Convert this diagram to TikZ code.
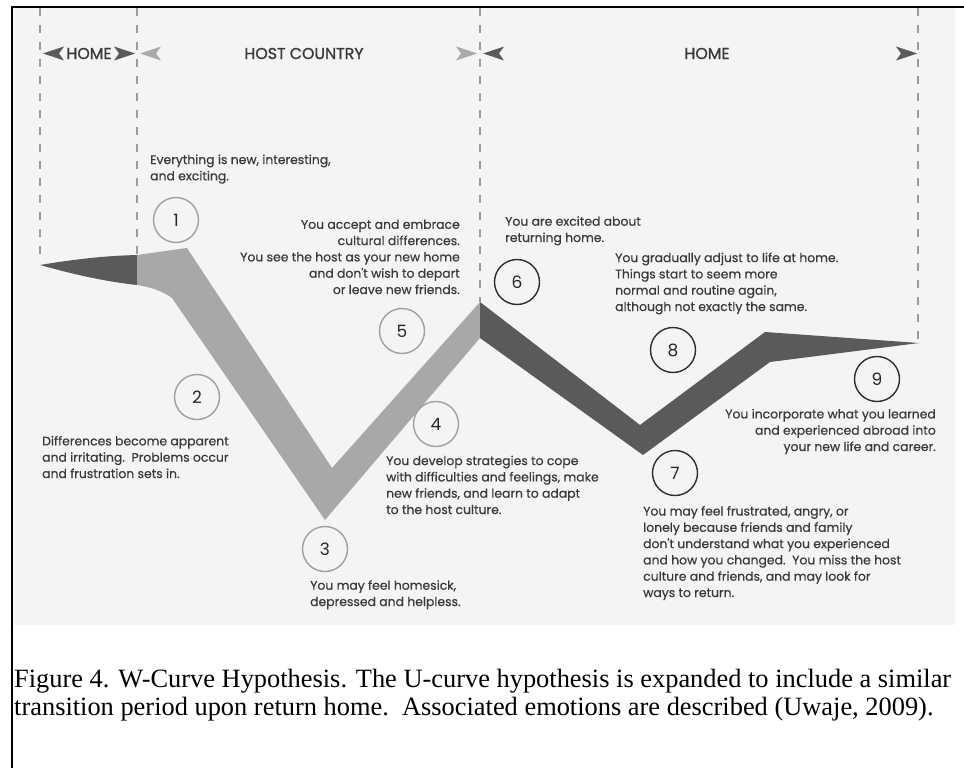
\documentclass[tikz,border=0pt]{standalone}
\usepackage{fontspec}
\setmainfont{Liberation Serif}
\newfontfamily\gothic{Poppins}[FakeBold=0.5]
\newfontfamily\gothichead{Poppins}[FakeBold=1.2]
\newfontfamily\gothicnum{Poppins}
\definecolor{bg}{HTML}{F4F4F4}
\definecolor{darkband}{HTML}{5A5A5A}
\definecolor{lightband}{HTML}{A8A8A8}
\definecolor{txt}{HTML}{3A3A3A}
\definecolor{dashc}{HTML}{9C9C9C}
\definecolor{ringlight}{HTML}{A0A0A0}
\definecolor{ringdark}{HTML}{2E2E2E}
\definecolor{chevlight}{HTML}{AAAAAA}
\begin{document}
\begin{tikzpicture}[x=1pt,y=-1pt,
  desc/.style={font=\gothic\fontsize{12.4}{16.3}\selectfont, text=txt, inner sep=0pt},
  descL/.style={desc, align=left, anchor=base west},
  descR/.style={desc, align=right, anchor=base east},
  num/.style={circle, draw, line width=1.4pt, minimum size=45pt, inner sep=0pt, font=\gothicnum\fontsize{17}{17}\selectfont, text=black!85},
  numL/.style={num, draw=ringlight},
  numD/.style={num, draw=ringdark},
  vdash/.style={draw=dashc, line width=1.3pt, dash pattern=on 8pt off 9pt},
  head/.style={font=\gothichead\fontsize{15.8}{16}\selectfont, text=txt, inner sep=0pt},
  chevleft/.pic={\fill[pic actions] (0,0) -- (21,-7) -- (16,0) -- (21,7) -- cycle;},
  chevright/.pic={\fill[pic actions] (0,0) -- (-21,-7) -- (-16,0) -- (-21,7) -- cycle;}
]
\useasboundingbox (0,0) rectangle (964,768);
\fill[white] (0,0) rectangle (964,768);
\fill[bg] (13,8) rectangle (955,625);
\draw[line width=2pt] (12,7) -- (964,7);
\draw[line width=2pt] (12,6) -- (12,768);

% dashed separators
\draw[vdash] (40,8) -- (40,262);
\draw[vdash] (137,8) -- (137,255);
\draw[vdash] (480,8) -- (480,302);
\draw[vdash] (918,8) -- (918,343);

% header
\path (43,53.5) pic[fill=darkband] {chevleft};
\path (135,53.5) pic[fill=darkband] {chevright};
\path (140,53.5) pic[fill=chevlight] {chevleft};
\path (477,53.5) pic[fill=chevlight] {chevright};
\path (483,53.5) pic[fill=darkband] {chevleft};
\path (917,53.5) pic[fill=darkband] {chevright};
\node[head] (hhome1) at (89,53.5) {HOME};
\node[head] (hhost) at (304,53.5) {HOST COUNTRY};
\node[head] (hhome2) at (707,53.5) {HOME};

% bands
\fill[darkband] (40,265) .. controls (70,260) and (100,256) .. (137,255) -- (137,285) .. controls (100,281) and (65,272) .. (40,265) -- cycle;
\fill[lightband] (137,255) -- (187,248) -- (332,468) -- (480,302) -- (480,338) -- (325,520) -- (172,298) .. controls (163,291) and (150,287) .. (137,285) -- cycle;
\fill[darkband] (480,302) -- (640,425) -- (765,332) -- (919,343) -- (770,362) -- (643,455) -- (480,338) -- cycle;

% circles
\node[numL] (c1) at (176,220) {1};
\node[numL] (c2) at (197,397) {2};
\node[numL] (c3) at (325,549) {3};
\node[numL] (c4) at (436,424) {4};
\node[numL] (c5) at (402,331) {5};
\node[numD] (c6) at (517,282) {6};
\node[numD] (c7) at (675,473) {7};
\node[numD] (c8) at (673,350) {8};
\node[numD] (c9) at (877,379) {9};

% descriptions (anchor = baseline of last line)
\node[descL] (t1) at (150,180.3) {Everything is new, interesting,\\and exciting.};
\node[descL] (t2) at (42,478) {Differences become apparent\\and irritating.\ \ Problems occur\\and frustration sets in.};
\node[descL] (t3) at (310,606) {You may feel homesick,\\depressed and helpless.};
\node[descL] (t4) at (386,514) {You develop strategies to cope\\with difficulties and feelings, make\\new friends, and learn to adapt\\to the host culture.};
\node[descR] (t5) at (460,294) {You accept and embrace\hspace{4pt}\\cultural differences.\\You see the host as your new home\hspace{4pt}\\and don't wish to depart\\or leave new friends.};
\node[descL] (t6) at (505,242) {You are excited about\\returning home.};
\node[descL] (t7) at (643,597) {You may feel frustrated, angry, or\\lonely because friends and family\\don't understand what you experienced\\and how you changed.\ \ You miss the host\\culture and friends, and may look for\\ways to return.};
\node[descL] (t8) at (615,311) {You gradually adjust to life at home.\\Things start to seem more\\normal and routine again,\\although not exactly the same.};
\node[descR] (t9) at (936,451) {You incorporate what you learned\\and experienced abroad into\\your new life and career.};

% caption
\node[font=\fontsize{26.4}{28}\selectfont, align=left, anchor=base west, inner sep=0pt] (cap) at (14,715) {Figure 4. W-Curve Hypothesis. The U-curve hypothesis is expanded to include a similar\\transition period upon return home.\ \ Associated emotions are described (Uwaje, 2009).};
\end{tikzpicture}
\end{document}
